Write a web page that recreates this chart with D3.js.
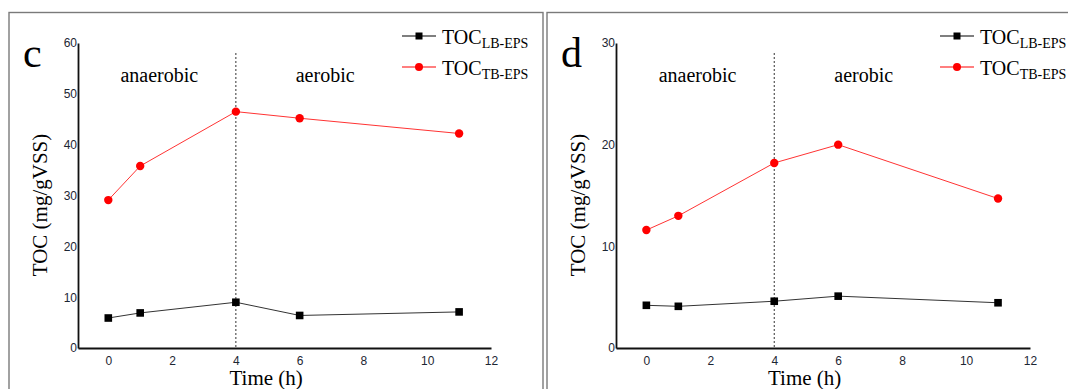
<!DOCTYPE html>
<html>
<head>
<meta charset="utf-8">
<script src="https://cdn.jsdelivr.net/npm/d3@7"></script>
<style>
	body { margin: 0; background: #fff; }
	svg { display: block; }
</style>
</head>
<body>
<svg id="chart" width="1068" height="389"></svg>
<script>
// time points (h)
var times = [0, 1, 4, 6, 11];
var xTicks = [0, 2, 4, 6, 8, 10, 12];

// panel c
var c_LB = [5.9, 6.9, 9.0, 6.4, 7.1];
var c_TB = [29.1, 35.8, 46.5, 45.2, 42.2];
var c_yTicks = [0, 10, 20, 30, 40, 50, 60];

// panel d
var d_LB = [4.2, 4.1, 4.6, 5.1, 4.45];
var d_TB = [11.6, 13.0, 18.2, 20.0, 14.7];
var d_yTicks = [0, 10, 20, 30];

var phaseSplit = 4;
var phaseNames = ['anaerobic', 'aerobic'];
var seriesNames = [['TOC', 'LB-EPS'], ['TOC', 'TB-EPS']];
var seriesColors = ['#000000', '#ff0000'];

var svg = d3.select('#chart');
var serif = '"Liberation Serif", "Times New Roman", serif';
var sans = '"Liberation Sans", Arial, sans-serif';

function draw_panel(opt) {
	var g = svg.append('g');

	// frame
	g.append('rect')
		.attr('x', opt.boxX).attr('y', 12.5)
		.attr('width', opt.boxW).attr('height', 400)
		.attr('fill', 'none')
		.attr('stroke', '#7a7a7a')
		.attr('stroke-width', 1.4)

	var x = d3.scaleLinear().domain([-0.95, 12]).range([opt.x0, opt.x1]);
	var y = d3.scaleLinear().domain([0, opt.yMax]).range([348, 43]);

	// axes
	var xAxis = d3.axisBottom(x).tickValues(xTicks).tickSize(0).tickPadding(8.5);
	var gx = g.append('g').attr('transform', 'translate(0,348)').call(xAxis);
	var yAxis = d3.axisLeft(y).tickValues(opt.yTicks).tickSize(0).tickPadding(1);
	var gy = g.append('g').attr('transform', 'translate(' + opt.x0 + ',0)').call(yAxis);

	[gx, gy].forEach(function(a) {
		a.select('.domain').attr('stroke', '#111').attr('stroke-width', 1.8);
		a.selectAll('text').attr('font-family', sans).attr('font-size', 12).attr('fill', '#1c2633');
	});

	// phase divider
	g.append('line')
		.attr('x1', x(phaseSplit)).attr('x2', x(phaseSplit))
		.attr('y1', 53).attr('y2', 348)
		.attr('stroke', '#333').attr('stroke-width', 1)
		.attr('stroke-dasharray', '2,2')

	g.selectAll('.phase').data(phaseNames).enter().append('text')
		.attr('x', (d, i) => x(i == 0 ? 1.6 : 6.8))
		.attr('y', 82)
		.attr('text-anchor', 'middle')
		.style('font-family', serif).attr('font-size', 20)
		.text(d => d)

	// series
	var line = d3.line().x((d, i) => x(times[i])).y(d => y(d));
	[opt.lb, opt.tb].forEach(function(vals, k) {
		g.append('path').datum(vals)
			.attr('d', line)
			.attr('fill', 'none')
			.attr('stroke', k == 0 ? '#333' : '#ff3333')
			.attr('stroke-width', 1)
		if (k == 0) {
			g.selectAll('.sq').data(vals).enter().append('rect')
				.attr('x', (d, i) => x(times[i]) - 3.8)
				.attr('y', d => y(d) - 3.8)
				.attr('width', 7.6).attr('height', 7.6)
				.attr('fill', seriesColors[0])
		} else {
			g.selectAll('.ci').data(vals).enter().append('circle')
				.attr('cx', (d, i) => x(times[i]))
				.attr('cy', d => y(d))
				.attr('r', 4.2)
				.attr('fill', seriesColors[1])
		}
	});

	// labels
	g.append('text')
		.attr('x', opt.x0 - 55).attr('y', 67)
		.style('font-family', serif).attr('font-size', 42)
		.text(opt.letter)

	g.append('text')
		.attr('transform', 'translate(' + (opt.x0 - 31) + ',205) rotate(-90)')
		.attr('text-anchor', 'middle')
		.style('font-family', serif).attr('font-size', 21)
		.text('TOC (mg/gVSS)')

	g.append('text')
		.attr('x', x(4.95)).attr('y', 385)
		.attr('text-anchor', 'middle')
		.style('font-family', serif).attr('font-size', 21)
		.text('Time (h)')

	// legend
	var lx = opt.x0 + 324;
	seriesNames.forEach(function(nm, k) {
		var ly = k == 0 ? 36 : 67;
		g.append('line')
			.attr('x1', lx).attr('x2', lx + 34)
			.attr('y1', ly).attr('y2', ly)
			.attr('stroke', seriesColors[k]).attr('stroke-width', 1.2)
		if (k == 0) {
			g.append('rect').attr('x', lx + 13.5).attr('y', ly - 3.5)
				.attr('width', 7).attr('height', 7).attr('fill', seriesColors[0])
		} else {
			g.append('circle').attr('cx', lx + 17).attr('cy', ly).attr('r', 4)
				.attr('fill', seriesColors[1])
		}
		var t = g.append('text')
			.attr('x', lx + 40).attr('y', ly + 7.5)
			.style('font-family', serif).attr('font-size', 20)
		t.append('tspan').text(nm[0]);
		t.append('tspan').attr('font-size', 14).attr('dy', 4).text(nm[1]);
	});
}

draw_panel({boxX: 9, boxW: 534, x0: 78, x1: 491, yMax: 60, yTicks: c_yTicks, lb: c_LB, tb: c_TB, letter: 'c'});
draw_panel({boxX: 547, boxW: 600, x0: 616, x1: 1030, yMax: 30, yTicks: d_yTicks, lb: d_LB, tb: d_TB, letter: 'd'});
</script>
</body>
</html>
